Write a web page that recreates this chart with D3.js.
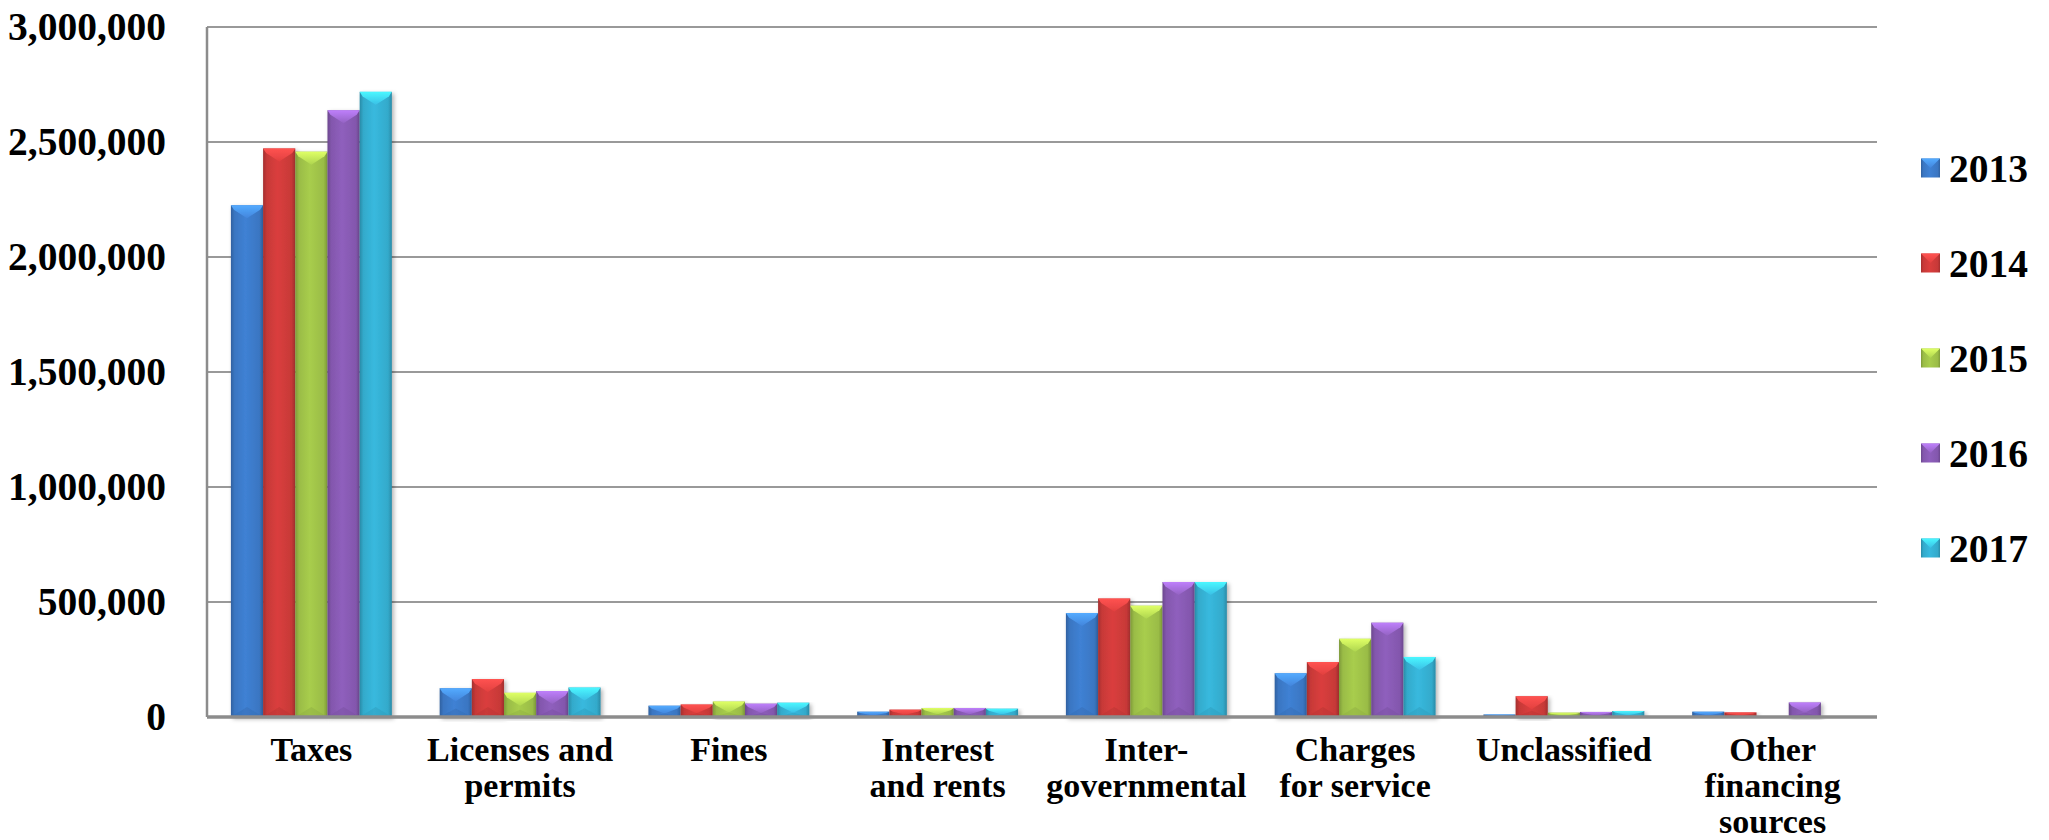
<!DOCTYPE html>
<html>
<head>
<meta charset="utf-8">
<script src="https://cdn.jsdelivr.net/npm/d3@7"></script>
<style>
  html, body { margin: 0; padding: 0; background: #ffffff; }
  svg { display: block; }
  text { font-family: "Liberation Serif", "Times New Roman", serif; font-weight: bold; fill: #000; }
</style>
</head>
<body>
<svg id="chart" width="2049" height="840"></svg>
<script>
// Revenue by source, 2013-2017
const categories = [
  "Taxes", "Licenses and permits", "Fines", "Interest and rents",
  "Inter-governmental", "Charges for service", "Unclassified", "Other financing sources"
];
// label lines as printed under each group
const categoryLines = [
  ["Taxes"], ["Licenses and", "permits"], ["Fines"], ["Interest", "and rents"],
  ["Inter-", "governmental"], ["Charges", "for service"], ["Unclassified"], ["Other", "financing", "sources"]
];
const years = ["2013", "2014", "2015", "2016", "2017"];
const values2013 = [2225000, 125000, 49000, 23000, 452000, 190000, 11000, 23000];
const values2014 = [2472000, 165000, 54000, 32000, 515000, 239000, 90000, 20000];
const values2015 = [2458000, 105000, 67000, 39000, 484000, 340000, 19000, 0];
const values2016 = [2638000, 113000, 58000, 39000, 587000, 410000, 22000, 63000];
const values2017 = [2718000, 128000, 62000, 36000, 587000, 261000, 26000, 3000];
const seriesValues = [values2013, values2014, values2015, values2016, values2017];
const yTicks = [0, 500000, 1000000, 1500000, 2000000, 2500000, 3000000];
const colors = ["#3d7ccd", "#d23c3b", "#a2c64a", "#8a5cb6", "#36b3d6"];

const svg = d3.select("#chart");
const plotLeft = 207, plotRight = 1877, plotTop = 27, plotBottom = 717;

const x0 = d3.scaleBand().domain(categories).range([plotLeft, plotRight])
  .paddingInner(0.229).paddingOuter(0.1145);
const x1 = d3.scaleBand().domain(years).range([0, x0.bandwidth()]);
const y = d3.scaleLinear().domain([0, 3000000]).range([plotBottom, plotTop]);

// gradients: horizontal shading for bar faces, vertical for bevel caps
const defs = svg.append("defs");
colors.forEach((c, i) => {
  const base = d3.color(c);
  const g = defs.append("linearGradient").attr("id", "face" + i)
    .attr("x1", "0%").attr("x2", "100%").attr("y1", "0%").attr("y2", "0%");
  g.append("stop").attr("offset", "0%").attr("stop-color", base.darker(0.7));
  g.append("stop").attr("offset", "12%").attr("stop-color", base.darker(0.15));
  g.append("stop").attr("offset", "45%").attr("stop-color", base.brighter(0.1));
  g.append("stop").attr("offset", "88%").attr("stop-color", base.darker(0.15));
  g.append("stop").attr("offset", "100%").attr("stop-color", base.darker(0.7));
  const v = defs.append("linearGradient").attr("id", "cap" + i)
    .attr("x1", "0%").attr("x2", "0%").attr("y1", "0%").attr("y2", "100%");
  v.append("stop").attr("offset", "0%").attr("stop-color", base.brighter(0.9));
  v.append("stop").attr("offset", "100%").attr("stop-color", base.brighter(0.2));
});
const shadow = defs.append("filter").attr("id", "shadow")
  .attr("x", "-20%").attr("y", "-5%").attr("width", "150%").attr("height", "120%");
shadow.append("feDropShadow").attr("dx", 2).attr("dy", 2).attr("stdDeviation", 2)
  .attr("flood-color", "#000").attr("flood-opacity", 0.3);

// gridlines
svg.append("g").selectAll("line").data(yTicks.filter(d => d > 0)).join("line")
  .attr("x1", plotLeft).attr("x2", plotRight)
  .attr("y1", d => y(d)).attr("y2", d => y(d))
  .attr("stroke", "#999").attr("stroke-width", 2);

// left axis line
svg.append("line").attr("x1", plotLeft).attr("x2", plotLeft).attr("y1", plotTop).attr("y2", plotBottom)
  .attr("stroke", "#8c8c8c").attr("stroke-width", 2.5);

// y axis labels
const yAxis = d3.axisLeft(y).tickValues(yTicks).tickFormat(d3.format(",")).tickSize(0).tickPadding(41);
const yg = svg.append("g").attr("transform", `translate(${plotLeft},0)`).call(yAxis);
yg.select(".domain").remove();
yg.selectAll("text").attr("font-size", 39.5)
  .attr("font-family", "Liberation Serif, serif").attr("font-weight", "bold").attr("fill", "#000");

// bars
const bars = [];
categories.forEach((cat, ci) => {
  years.forEach((yr, si) => {
    bars.push({ cat, yr, si, value: seriesValues[si][ci] });
  });
});
const barG = svg.append("g").selectAll("g").data(bars.filter(d => d.value > 0)).join("g")
  .attr("filter", "url(#shadow)");
barG.each(function(d) {
  const g = d3.select(this);
  const bx = x0(d.cat) + x1(d.yr);
  const bw = x1.bandwidth();
  const by = y(d.value);
  const bh = y(0) - by;
  g.append("rect").attr("x", bx).attr("y", by).attr("width", bw).attr("height", bh)
    .attr("fill", `url(#face${d.si})`);
  const capH = Math.min(13, bh * 0.7);
  g.append("path")
    .attr("d", `M${bx},${by}L${bx + bw},${by}L${bx + bw - 3},${by + capH * 0.35}L${bx + bw / 2},${by + capH}L${bx + 3},${by + capH * 0.35}Z`)
    .attr("fill", `url(#cap${d.si})`);
  // thin darker bottom bevel
  const botH = Math.min(10, bh * 0.3);
  g.append("path")
    .attr("d", `M${bx},${by + bh}L${bx + bw},${by + bh}L${bx + bw / 2},${by + bh - botH}Z`)
    .attr("fill", d3.color(colors[d.si]).darker(0.35)).attr("opacity", 0.5);
});

// x axis baseline
svg.append("line").attr("x1", plotLeft).attr("x2", plotRight).attr("y1", plotBottom).attr("y2", plotBottom)
  .attr("stroke", "#8c8c8c").attr("stroke-width", 3.5);

// category labels
const xl = svg.append("g").selectAll("text").data(categories).join("text")
  .attr("text-anchor", "middle").attr("font-size", 34)
  .attr("x", d => x0(d) + x0.bandwidth() / 2).attr("y", 761);
xl.each(function(d, i) {
  d3.select(this).selectAll("tspan").data(categoryLines[i]).join("tspan")
    .attr("x", x0(d) + x0.bandwidth() / 2)
    .attr("dy", (t, j) => j === 0 ? 0 : 36)
    .text(t => t);
});

// legend
const lg = svg.append("g").selectAll("g").data(years).join("g")
  .attr("transform", (d, i) => `translate(1921,${168 + i * 95})`);
lg.append("rect").attr("x", 0).attr("y", -9.5).attr("width", 19).attr("height", 19)
  .attr("fill", (d, i) => `url(#face${i})`);
lg.append("path").attr("d", "M0,-9.5L19,-9.5L9.5,0Z").attr("fill", (d, i) => `url(#cap${i})`);
lg.append("text").attr("x", 28).attr("y", 0).attr("dy", "0.35em")
  .attr("font-size", 39.5).text(d => d);
</script>
</body>
</html>
